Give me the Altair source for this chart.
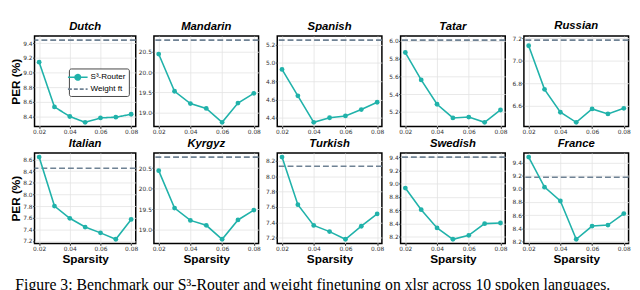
import altair as alt
import pandas as pd

# ---------------- data ----------------
sparsity = [0.02, 0.03, 0.04, 0.05, 0.06, 0.07, 0.08]
languages = ["Dutch", "Mandarin", "Spanish", "Tatar", "Russian",
             "Italian", "Kyrgyz", "Turkish", "Swedish", "France"]

dutch = [9.14, 8.53, 8.40, 8.32, 8.38, 8.39, 8.43]
mandarin = [20.44, 19.53, 19.23, 19.11, 18.77, 19.24, 19.48]
spanish = [4.93, 4.64, 4.35, 4.40, 4.42, 4.49, 4.57]
tatar = [5.87, 5.56, 5.285, 5.13, 5.14, 5.08, 5.22]
russian = [7.135, 6.745, 6.54, 6.45, 6.57, 6.525, 6.575]
italian = [8.64, 7.80, 7.59, 7.44, 7.34, 7.23, 7.57]
kyrgyz = [20.44, 19.53, 19.23, 19.11, 18.77, 19.24, 19.48]
turkish = [8.25, 7.63, 7.36, 7.28, 7.18, 7.35, 7.51]
swedish = [8.935, 8.61, 8.335, 8.165, 8.225, 8.40, 8.41]
france = [9.48, 9.025, 8.815, 8.235, 8.435, 8.45, 8.625]

weight_ft = [9.44, 20.78, 5.25, 6.01, 7.185, 8.45, 20.77, 8.13, 9.40, 9.175]

router_series = [dutch, mandarin, spanish, tatar, russian,
                 italian, kyrgyz, turkish, swedish, france]

x_ticks = [0.02, 0.04, 0.06, 0.08]
y_ticks = [
    [8.4, 8.6, 8.8, 9.0, 9.2, 9.4],
    [19.0, 19.5, 20.0, 20.5],
    [4.4, 4.6, 4.8, 5.0, 5.2],
    [5.2, 5.4, 5.6, 5.8, 6.0],
    [6.6, 6.8, 7.0, 7.2],
    [7.2, 7.4, 7.6, 7.8, 8.0, 8.2, 8.4, 8.6],
    [19.0, 19.5, 20.0, 20.5],
    [7.2, 7.4, 7.6, 7.8, 8.0, 8.2],
    [8.2, 8.4, 8.6, 8.8, 9.0, 9.2, 9.4],
    [8.2, 8.4, 8.6, 8.8, 9.0, 9.2, 9.4],
]

ROUTER = "S³-Router"
WEIGHT = "Weight ft"
series_names = [ROUTER, WEIGHT]

caption = ("Figure 3: Benchmark our S³-Router and weight finetuning on xlsr "
           "across 10 spoken languages.")

# ---------------- style ----------------
TEAL = "#20B2AA"
GRAY = "#6F8294"
W_LEFT = 103
W = 106.5
H = 92

CIRCLE_PATH = "M-2,0H2M0.55,0A0.55,0.55,0,1,1,-0.55,0A0.55,0.55,0,1,1,0.55,0Z"
LINE_PATH = "M-2,0H2"


def make_legend():
    return alt.Legend(
        orient="none", legendX=35, legendY=33, title=None,
        symbolSize=100, symbolStrokeWidth=1.6, symbolFillColor=TEAL,
        symbolOpacity=1,
        labelFont="Liberation Sans", labelFontSize=8.2, labelColor="black",
        labelOffset=7, rowPadding=0,
        padding=3, strokeColor="#444", fillColor="white", cornerRadius=2,
    )


def panel(i):
    row, col = divmod(i, 5)
    vals = router_series[i]
    ft = weight_ft[i]
    df = pd.DataFrame({"sparsity": sparsity, "per": vals, "series": ROUTER})
    fdf = pd.DataFrame({"per": [ft], "series": [WEIGHT]})
    lo = min(vals + [ft])
    hi = max(vals + [ft])
    m = 0.05 * (hi - lo)

    xenc = alt.X("sparsity:Q",
                 scale=alt.Scale(domain=[0.017, 0.083], nice=False, zero=False),
                 axis=alt.Axis(values=x_ticks, format=".2f",
                               labelOverlap=False, labelFlush=False,
                               titlePadding=1.5,
                               title="Sparsity" if row == 1 else None))
    yenc = alt.Y("per:Q",
                 scale=alt.Scale(domain=[lo - m, hi + m], nice=False, zero=False),
                 axis=alt.Axis(values=y_ticks[i], format=".1f",
                               labelOverlap=False, labelFlush=False,
                               titlePadding=0.5,
                               title="PER (%)" if col == 0 else None))

    pts = alt.Chart(df).mark_circle(size=24, opacity=1, color=TEAL).encode(
        x=xenc, y=yenc)

    if i == 0:
        color = alt.Color("series:N",
                          scale=alt.Scale(domain=series_names, range=[TEAL, GRAY]),
                          legend=make_legend())
        dash = alt.StrokeDash("series:N",
                              scale=alt.Scale(domain=series_names, range=[[1, 0], [4, 2]]),
                              legend=make_legend())
        shape = alt.Shape("series:N",
                          scale=alt.Scale(domain=series_names, range=[CIRCLE_PATH, LINE_PATH]),
                          legend=make_legend())
        line = alt.Chart(df).mark_line(strokeWidth=1.6).encode(
            x=xenc, y=yenc, color=color, strokeDash=dash)
        rule = alt.Chart(fdf).mark_rule(strokeWidth=1.6, strokeDash=[6, 3]).encode(
            y=yenc, color=color)
        legend_layer = alt.Chart(df).mark_point(filled=True, opacity=1).encode(
            x=xenc, y=yenc, color=color, shape=shape, strokeDash=dash
        ).transform_filter("false")
        layers = [rule, line, pts, legend_layer]
    else:
        line = alt.Chart(df).mark_line(strokeWidth=1.6, color=TEAL).encode(x=xenc, y=yenc)
        rule = alt.Chart(fdf).mark_rule(strokeWidth=1.6, color=GRAY,
                                        strokeDash=[6, 3]).encode(y=yenc)
        layers = [rule, line, pts]

    return alt.layer(*layers).properties(
        width=W_LEFT if col == 0 else W, height=H,
        title=alt.TitleParams(languages[i]))


chart = alt.concat(
    *[panel(i) for i in range(10)], columns=5,
    spacing={"row": 27, "column": 18.5}, bounds="flush",
).resolve_scale(
    color="independent", strokeDash="independent", shape="independent"
).properties(
    padding={"left": 0, "top": 9, "right": 0, "bottom": 0},
    title=alt.TitleParams(caption, orient="bottom", anchor="start", frame="group",
                          dx=-19.5, offset=13, font="Liberation Serif", fontSize=16,
                          fontWeight="normal", fontStyle="normal", color="black"),
).configure_view(
    stroke="black", strokeWidth=1.5
).configure_axis(
    labelFont="DejaVu Sans", labelFontSize=6, labelColor="#333",
    labelOverlap=False, labelFlush=False,
    tickSize=2, tickColor="#333", domain=False,
    gridColor="#e3e3e3", gridWidth=0.8,
    titleFont="Liberation Sans", titleFontSize=12, titleFontWeight="bold",
    titleColor="black", labelPadding=0.5,
).configure_title(
    font="Liberation Sans", fontSize=11.5, fontWeight="bold", fontStyle="italic",
    color="black", offset=4,
)

chart.save("out.html", embed_options={"renderer": "svg", "actions": False})
